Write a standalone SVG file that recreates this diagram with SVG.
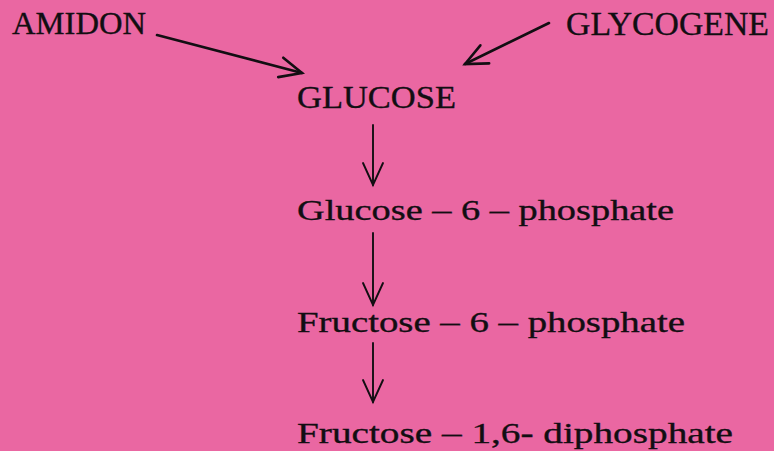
<svg xmlns="http://www.w3.org/2000/svg" width="774" height="451" viewBox="0 0 774 451">
<style>
.bg{fill:#ea67a2}
.t{font-family:"Liberation Serif","Times New Roman",serif;fill:#120e12;stroke:#120e12;stroke-width:0.35}
.caps{font-size:32px}
.low{font-size:30px}
.c{stroke:#120e12;fill:none;stroke-linecap:round}
.thick{stroke-width:2.6}
.thin{stroke-width:1.9}
.head{stroke:#120e12;fill:none;stroke-linecap:round;stroke-linejoin:miter}
</style>
<defs>
<marker id="vThick" markerUnits="userSpaceOnUse" markerWidth="30" markerHeight="30" refX="0" refY="0" orient="auto" overflow="visible">
<path class="head" stroke-width="2.6" d="M-22,-10 L0,0 L-22,10"/>
</marker>
<marker id="vThin" markerUnits="userSpaceOnUse" markerWidth="30" markerHeight="30" refX="0" refY="0" orient="auto" overflow="visible">
<path class="head" stroke-width="1.9" d="M-22,-10 L0,0 L-22,10"/>
</marker>
</defs>
<rect class="bg" x="0" y="0" width="774" height="451"/>
<g id="amidon"><text class="t caps" x="12" y="34" textLength="134" lengthAdjust="spacingAndGlyphs">AMIDON</text></g>
<g id="glycogene"><text class="t caps" x="566" y="35" textLength="203" lengthAdjust="spacingAndGlyphs" style="font-size:33px">GLYCOGENE</text></g>
<g id="glucose"><text class="t caps" x="297" y="108" textLength="159" lengthAdjust="spacingAndGlyphs">GLUCOSE</text></g>
<g id="g6p"><text class="t low" x="297" y="220" textLength="377" lengthAdjust="spacingAndGlyphs">Glucose – 6 – phosphate</text></g>
<g id="f6p"><text class="t low" x="297" y="332" textLength="388" lengthAdjust="spacingAndGlyphs">Fructose – 6 – phosphate</text></g>
<g id="f16dp"><text class="t low" x="297" y="443" textLength="436" lengthAdjust="spacingAndGlyphs">Fructose – 1,6- diphosphate</text></g>
<g id="connectors">
<line class="c thick" x1="157" y1="35" x2="302" y2="73" marker-end="url(#vThick)"/>
<line class="c thick" x1="549" y1="23" x2="465" y2="64" marker-end="url(#vThick)"/>
<line class="c thin" x1="373" y1="125" x2="373" y2="185" marker-end="url(#vThin)"/>
<line class="c thin" x1="373" y1="233" x2="373" y2="305" marker-end="url(#vThin)"/>
<line class="c thin" x1="373" y1="343" x2="373" y2="402" marker-end="url(#vThin)"/>
</g>
</svg>
